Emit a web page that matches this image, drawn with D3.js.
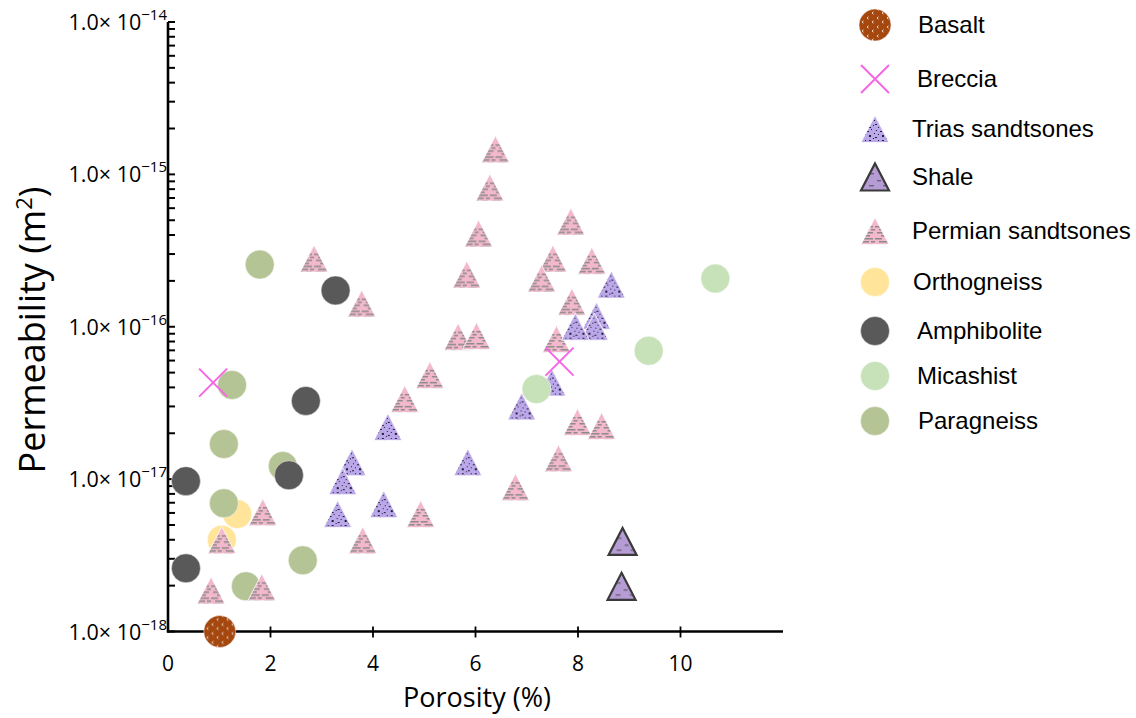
<!DOCTYPE html>
<html>
<head>
<meta charset="utf-8">
<script src="https://cdn.jsdelivr.net/npm/d3@7"></script>
<style>
  html, body { margin: 0; padding: 0; background: #fff; }
  svg { display: block; }
</style>
</head>
<body>
<svg id="chart" width="1136" height="718"></svg>
<script>
// Porosity (%) and permeability (m²) per lithology
const basalt        = [[1.01, 1.0e-18]];
const breccia       = [[0.88, 4.3e-17], [7.64, 5.9e-17]];
const orthogneiss   = [[1.35, 5.9e-18], [1.05, 4.0e-18]];
const paragneiss    = [[1.79, 2.56e-16], [1.25, 4.15e-17], [1.09, 1.70e-17], [2.24, 1.22e-17],
                       [1.09, 6.95e-18], [2.63, 2.93e-18], [1.52, 1.98e-18]];
const amphibolite   = [[0.35, 9.7e-18], [0.35, 2.6e-18], [2.36, 1.06e-17], [2.69, 3.26e-17], [3.27, 1.73e-16]];
const micashist     = [[10.68, 2.07e-16], [9.38, 6.95e-17], [7.19, 3.9e-17]];
const shale         = [[8.87, 3.9e-18], [8.85, 1.98e-18]];
const triasSand     = [[8.65, 1.89e-16], [8.36, 1.18e-16], [8.32, 1.0e-16], [7.95, 1.0e-16],
                       [7.49, 4.3e-17], [6.90, 3.0e-17], [5.85, 1.29e-17], [4.29, 2.2e-17],
                       [3.59, 1.29e-17], [3.41, 9.7e-18], [4.21, 6.85e-18], [3.31, 5.9e-18]];
const permianSand   = [[6.39, 1.46e-15], [6.28, 8.2e-16], [6.06, 4.09e-16], [5.83, 2.2e-16],
                       [5.66, 8.6e-17], [6.02, 8.7e-17], [7.86, 4.9e-16], [7.51, 2.8e-16],
                       [7.29, 2.07e-16], [8.27, 2.71e-16], [7.88, 1.46e-16], [7.58, 8.3e-17],
                       [2.85, 2.8e-16], [3.78, 1.42e-16], [4.62, 3.36e-17], [5.11, 4.83e-17],
                       [7.99, 2.37e-17], [8.46, 2.23e-17], [7.62, 1.37e-17], [6.78, 8.86e-18],
                       [4.93, 5.9e-18], [3.80, 3.97e-18], [1.85, 6.07e-18], [1.05, 3.97e-18],
                       [0.84, 1.86e-18], [1.83, 1.95e-18]];

const xTicks = [0, 2, 4, 6, 8, 10];
const yDecades = [-18, -17, -16, -15, -14];
const legendNames = ["Basalt", "Breccia", "Trias sandtsones", "Shale", "Permian sandtsones",
                     "Orthogneiss", "Amphibolite", "Micashist", "Paragneiss"];

const svg = d3.select("#chart");
const x = d3.scaleLinear().domain([0, 12]).range([168, 783]);
const y = d3.scaleLog().domain([1e-18, 1e-14]).range([631.5, 22]);

// ---- fill patterns ----
const defs = svg.append("defs");

const pPerm = defs.append("pattern").attr("id", "permian")
  .attr("patternUnits", "userSpaceOnUse").attr("width", 22).attr("height", 12);
pPerm.append("rect").attr("width", 22).attr("height", 12).attr("fill", "#f4b8cc");
[[2, 1, 9], [14, 1, 6], [6, 4, 11], [0, 7, 7], [11, 7, 9], [4, 10, 12], [18, 10, 4]].forEach(([a, b, w]) =>
  pPerm.append("rect").attr("x", a).attr("y", b).attr("width", w).attr("height", 1.5).attr("fill", "#8a8a8a"));

const pTrias = defs.append("pattern").attr("id", "trias")
  .attr("patternUnits", "userSpaceOnUse").attr("width", 13).attr("height", 13);
pTrias.append("rect").attr("width", 13).attr("height", 13).attr("fill", "#bba8ea");
[[1, 1, 1, 1], [5, 2, 2, 1], [9, 0, 1, 1], [3, 5, 1, 1], [7, 6, 2, 2], [0, 8, 2, 1],
 [11, 9, 1, 1], [3, 11, 1, 1], [7, 11, 2, 1], [12, 4, 1, 1]]
  .forEach(([a, b, w, h]) =>
    pTrias.append("rect").attr("x", a).attr("y", b).attr("width", w).attr("height", h).attr("fill", "#221d2e"));

const pShale = defs.append("pattern").attr("id", "shale")
  .attr("patternUnits", "userSpaceOnUse").attr("width", 14).attr("height", 12);
pShale.append("rect").attr("width", 14).attr("height", 12).attr("fill", "#b69cd4");
[[2, 3, 4], [8, 8, 5]].forEach(([a, b, w]) =>
  pShale.append("rect").attr("x", a).attr("y", b).attr("width", w).attr("height", 1.4).attr("fill", "#6b6078"));

const pBasalt = defs.append("pattern").attr("id", "basalt")
  .attr("patternUnits", "userSpaceOnUse").attr("width", 10).attr("height", 9);
pBasalt.append("rect").attr("width", 10).attr("height", 9).attr("fill", "#a4480f");
[[2, 2], [7, 6]].forEach(([a, b]) =>
  pBasalt.append("path").attr("d", `M${a + 1.5},${b - 1.2}L${a},${b}L${a + 1.5},${b + 1.2}`)
    .attr("fill", "none").attr("stroke", "#f6e6dc").attr("stroke-width", 0.9));

// ---- marker drawing helpers ----
const triPath = (w, h) => `M0,${-h / 2}L${w / 2},${h / 2}L${-w / 2},${h / 2}Z`;

function circleMark(g, r, fill) {
  g.append("circle").attr("r", r).attr("fill", fill)
    .attr("stroke", "#ffffff").attr("stroke-opacity", 0.6).attr("stroke-width", 0.8);
}
function triMark(g, fill, stroke, sw) {
  g.append("path").attr("d", triPath(28, 27)).attr("fill", fill)
    .attr("stroke", stroke).attr("stroke-width", sw).attr("stroke-linejoin", "miter");
}
function crossMark(g) {
  g.append("path").attr("d", "M-14,-14L14,14M14,-14L-14,14")
    .attr("stroke", "#f766e4").attr("stroke-width", 2).attr("fill", "none");
}

const markers = {
  "Basalt":             g => circleMark(g, 16, "url(#basalt)"),
  "Breccia":            g => crossMark(g),
  "Trias sandtsones":   g => triMark(g, "url(#trias)", "#ffffff", 0.8),
  "Shale":              g => triMark(g, "url(#shale)", "#3a3a3a", 2.2),
  "Permian sandtsones": g => triMark(g, "url(#permian)", "#ffffff", 0.8),
  "Orthogneiss":        g => circleMark(g, 14.5, "#ffe49a"),
  "Amphibolite":        g => circleMark(g, 14.5, "#595959"),
  "Micashist":          g => circleMark(g, 14.5, "#c7e1b9"),
  "Paragneiss":         g => circleMark(g, 14.5, "#b5c494")
};

// ---- axes ----
const axisG = svg.append("g");
axisG.append("line").attr("x1", x(0)).attr("x2", x(0)).attr("y1", y(1e-14)).attr("y2", y(1e-18) + 1)
  .attr("stroke", "#000").attr("stroke-width", 2.6);
axisG.append("line").attr("x1", x(0) - 1).attr("x2", x(12)).attr("y1", y(1e-18)).attr("y2", y(1e-18))
  .attr("stroke", "#000").attr("stroke-width", 2.6);

// log ticks on the inside of the y axis
const yTickVals = [];
yDecades.slice(0, -1).forEach(e => { for (let k = 1; k <= 9; k++) yTickVals.push(k * Math.pow(10, e)); });
yTickVals.push(1e-14);
axisG.selectAll(".ytick").data(yTickVals).join("line")
  .attr("x1", x(0)).attr("x2", x(0) + 7)
  .attr("y1", d => y(d)).attr("y2", d => y(d))
  .attr("stroke", "#000").attr("stroke-width", 2);

const yLab = axisG.selectAll(".ylab").data(yDecades).join("text")
  .attr("x", x(0) - 1).attr("y", d => y(Math.pow(10, d)) + 8)
  .attr("text-anchor", "end")
  .attr("font-family", "'Open Sans', sans-serif").attr("font-size", 21.5).attr("fill", "#000");
yLab.append("tspan").text("1.0× 10");
yLab.append("tspan").attr("dy", -10).attr("font-size", 15).text(d => "−" + Math.abs(d));

axisG.selectAll(".xtick").data(xTicks.slice(1)).join("line")
  .attr("x1", d => x(d)).attr("x2", d => x(d))
  .attr("y1", y(1e-18) - 5).attr("y2", y(1e-18) + 6)
  .attr("stroke", "#000").attr("stroke-width", 1.8);

axisG.selectAll(".xlab").data(xTicks).join("text")
  .attr("x", d => x(d)).attr("y", 671)
  .attr("text-anchor", "middle")
  .attr("font-family", "'Open Sans', sans-serif").attr("font-size", 21).attr("fill", "#000")
  .text(d => d);

svg.append("text").attr("x", 477).attr("y", 707).attr("text-anchor", "middle")
  .attr("font-family", "'Open Sans', sans-serif").attr("font-size", 27).attr("fill", "#000")
  .text("Porosity (%)");

const yTitle = svg.append("text").attr("transform", "translate(45,330) rotate(-90)")
  .attr("text-anchor", "middle")
  .attr("font-family", "'Open Sans', sans-serif").attr("font-size", 36).attr("fill", "#000");
yTitle.append("tspan").text("Permeability (m");
yTitle.append("tspan").attr("dy", -13).attr("font-size", 22).text("2");
yTitle.append("tspan").attr("dy", 13).text(")");

// ---- points, back to front ----
const layers = [
  ["Orthogneiss", orthogneiss],
  ["Paragneiss", paragneiss],
  ["Amphibolite", amphibolite],
  ["Permian sandtsones", permianSand],
  ["Trias sandtsones", triasSand],
  ["Micashist", micashist],
  ["Shale", shale],
  ["Breccia", breccia],
  ["Basalt", basalt]
];
const plot = svg.append("g");
layers.forEach(([name, pts]) => {
  plot.append("g").selectAll("g").data(pts).join("g")
    .attr("transform", d => `translate(${x(d[0])},${y(d[1])})`)
    .each(function () { markers[name](d3.select(this)); });
});

// ---- legend ----
const legendRowY = [25, 79, 129, 177, 231, 282, 331, 376, 421];
const legendTextX = [43, 42, 37, 37, 37, 38, 42, 42, 43];
const legend = svg.append("g");
legendNames.forEach((name, i) => {
  const row = legend.append("g").attr("transform", `translate(875,${legendRowY[i]})`);
  markers[name](row.append("g"));
  row.append("text").attr("x", legendTextX[i]).attr("y", 8)
    .attr("font-family", "'Liberation Sans', Arial, sans-serif").attr("font-size", 24).attr("fill", "#000")
    .text(name);
});
</script>
</body>
</html>
